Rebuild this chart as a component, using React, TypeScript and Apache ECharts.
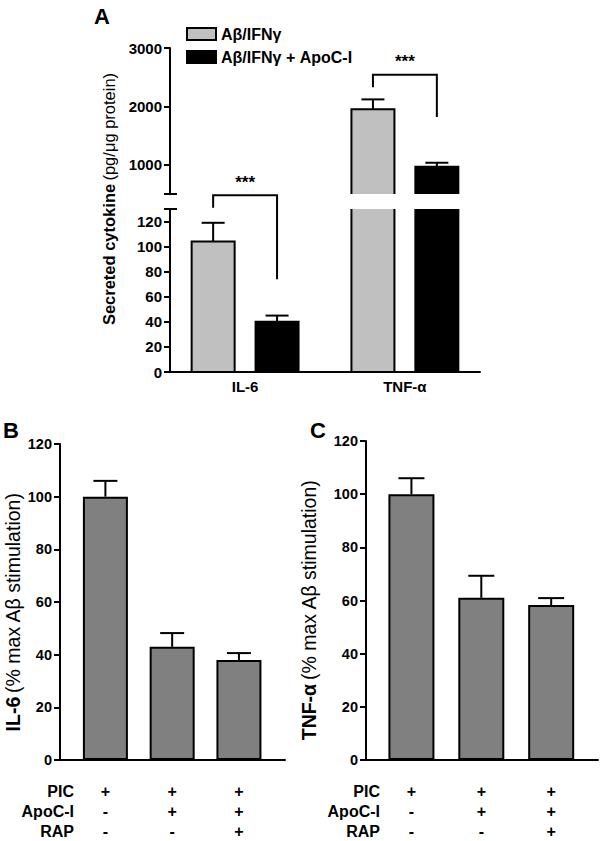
import React, { useEffect, useRef } from "react";
import * as echarts from "echarts";

const FONT = '"Liberation Sans", Arial, Helvetica, sans-serif';

// ---------- Panel A data ----------
const groupsA = ["IL-6", "TNF-α"];
const seriesA = ["Aβ/IFNγ", "Aβ/IFNγ + ApoC-I"];
const meanA_plain = [104, 1950];
const errA_plain = [15, 170];
const meanA_apoc = [40, 965];
const errA_apoc = [5, 70];
const ticksA_upper = [1000, 2000, 3000];
const ticksA_lower = [0, 20, 40, 60, 80, 100, 120];
const rangeA_upper = [500, 3000];
const rangeA_lower = [0, 130];
// significance brackets: [group index, bracket level, left leg end, right leg end]
const bracketA_lower = [[0, 141, 131, 74]];
const bracketA_upper = [[1, 2540, 2330, 1820]];
const sigLabel = "***";

// ---------- Panels B, C data ----------
const conditionNames = ["PIC", "ApoC-I", "RAP"];
const conditionSigns = [
  ["+", "-", "-"],
  ["+", "+", "-"],
  ["+", "+", "+"],
];
const il6Pct = [100, 43, 38];
const il6PctErr = [6, 5.2, 2.6];
const tnfPct = [100, 61, 58.3];
const tnfPctErr = [6, 8.3, 2.6];
const ticksPct = [0, 20, 40, 60, 80, 100, 120];

// ---------- layout constants ----------
const OFF_A = 0.2;
const BAR_W_A = 43;
const XR_A = [0.53, 2.47];
const XR_B = [0.32, 3.69];
const XR_C = [0.35, 3.67];
const GRAY_A = "#c0c0c0";
const GRAY_BC = "#808080";

const lineStyle = { color: "#000", width: 2 };

function barRenderA(color: string) {
  return (params: any, api: any) => {
    const x = api.value(0);
    const v = api.value(1);
    const base = api.coord([x, 0]);
    const top = api.coord([x, v]);
    return {
      type: "rect",
      shape: { x: top[0] - BAR_W_A / 2, y: top[1], width: BAR_W_A, height: base[1] - top[1] },
      style: { fill: color, stroke: "#000", lineWidth: 2 },
    };
  };
}

function errRender(capHalf: number) {
  return (params: any, api: any) => {
    const x = api.value(0);
    const m = api.value(1);
    const e = api.value(2);
    const p0 = api.coord([x, m]);
    const p1 = api.coord([x, m + e]);
    return {
      type: "group",
      children: [
        { type: "line", shape: { x1: p0[0], y1: p0[1], x2: p1[0], y2: p1[1] }, style: { stroke: "#000", lineWidth: 2 } },
        { type: "line", shape: { x1: p1[0] - capHalf, y1: p1[1], x2: p1[0] + capHalf, y2: p1[1] }, style: { stroke: "#000", lineWidth: 2 } },
      ],
    };
  };
}

function bracketRender(params: any, api: any) {
  const g = api.value(0) + 1;
  const lvl = api.value(1);
  const l = api.value(2);
  const r = api.value(3);
  const pl = api.coord([g - OFF_A, lvl]);
  const pr = api.coord([g + OFF_A, lvl]);
  const lb = api.coord([g - OFF_A, l]);
  const rb = api.coord([g + OFF_A, r]);
  return {
    type: "group",
    children: [
      { type: "polyline", shape: { points: [lb, pl, pr, rb] }, style: { stroke: "#000", lineWidth: 2, fill: null } },
      {
        type: "text",
        x: (pl[0] + pr[0]) / 2,
        y: pl[1] - 13,
        style: { text: sigLabel, fontSize: 17, fontWeight: "bold", fontFamily: FONT, align: "center", verticalAlign: "middle", fill: "#000" },
      },
    ],
  };
}

function breakRender(params: any, api: any) {
  const p = api.coord([api.value(0), api.value(1)]);
  return { type: "line", shape: { x1: p[0] - 6, y1: p[1], x2: p[0] + 7, y2: p[1] }, style: { stroke: "#000", lineWidth: 2 } };
}

function yAxisCfg(grid: number, min: number, max: number, ticks: number[], fontSize: number) {
  return {
    gridIndex: grid,
    type: "value",
    min,
    max,
    axisLine: { show: true, onZero: false, lineStyle },
    axisTick: { show: true, customValues: ticks, length: 6, lineStyle },
    axisLabel: {
      customValues: ticks,
      formatter: (v: number) => "{t|" + String(v) + "}",
      rich: { t: { color: "#000", fontWeight: "bold", fontSize, fontFamily: FONT } },
      color: "#000",
      fontWeight: "bold",
      fontSize,
      fontFamily: FONT,
      margin: 8,
    },
    splitLine: { show: false },
  };
}

export default function App() {
  const ref = useRef<HTMLDivElement>(null);
  useEffect(() => {
    if (!ref.current) return;
    const chart = echarts.init(ref.current, null, { renderer: "svg" });

    const plainA = groupsA.map((g, i) => [i + 1 - OFF_A, meanA_plain[i], errA_plain[i]]);
    const apocA = groupsA.map((g, i) => [i + 1 + OFF_A, meanA_apoc[i], errA_apoc[i]]);
    const allA = plainA.concat(apocA);
    const dataB = il6Pct.map((v, i) => [i + 1, v]);
    const errB = il6Pct.map((v, i) => [i + 1, v, il6PctErr[i]]);
    const dataC = tnfPct.map((v, i) => [i + 1, v]);
    const errC = tnfPct.map((v, i) => [i + 1, v, tnfPctErr[i]]);
    const ticksX = conditionSigns.map((s, i) => i + 1);
    const signFmt = (v: number) => conditionSigns[Math.round(v) - 1].join("\n");

    const titleText = (x: number, y: number, rich: string, size: number) => ({
      type: "text",
      x,
      y,
      rotation: Math.PI / 2,
      style: {
        text: rich,
        rich: {
          b: { fontWeight: "bold", fontSize: size, fontFamily: FONT, fill: "#000" },
          n: { fontWeight: "normal", fontSize: size, fontFamily: FONT, fill: "#000" },
        },
        align: "center",
        verticalAlign: "middle",
      },
    });
    const letter = (x: number, y: number, t: string) => ({
      type: "text",
      x,
      y,
      style: { text: t, fontSize: 22, fontWeight: "bold", fontFamily: FONT, fill: "#000", align: "center", verticalAlign: "middle" },
    });
    const rowNames = (x: number) => ({
      type: "text",
      x,
      y: 781,
      style: {
        text: conditionNames.join("\n"),
        fontSize: 16,
        fontWeight: "bold",
        fontFamily: FONT,
        fill: "#000",
        align: "right",
        verticalAlign: "top",
        lineHeight: 20,
      },
    });

    const option: any = {
      animation: false,
      backgroundColor: "#fff",
      textStyle: { fontFamily: FONT },
      legend: {
        orient: "vertical",
        left: 181,
        top: 21,
        itemWidth: 29,
        itemHeight: 12,
        itemGap: 7,
        selectedMode: false,
        textStyle: { fontFamily: FONT, fontSize: 16, fontWeight: "bold", color: "#000" },
        data: [
          { name: seriesA[0], icon: "rect", itemStyle: { color: GRAY_A, borderColor: "#000", borderWidth: 2 } },
          { name: seriesA[1], icon: "rect", itemStyle: { color: "#000", borderColor: "#000", borderWidth: 2 } },
        ],
      },
      grid: [
        { left: 170, top: 48, width: 310, height: 146 },
        { left: 170, top: 209, width: 310, height: 163 },
        { left: 60, top: 444, width: 225, height: 316 },
        { left: 366, top: 441, width: 232, height: 319 },
      ],
      xAxis: [
        { gridIndex: 0, type: "value", min: XR_A[0], max: XR_A[1], show: false, splitLine: { show: false } },
        {
          gridIndex: 1,
          type: "value",
          min: XR_A[0],
          max: XR_A[1],
          axisLine: { show: true, onZero: false, lineStyle },
          axisTick: { show: false },
          splitLine: { show: false },
          axisLabel: {
            customValues: groupsA.map((g, i) => i + 1),
            formatter: (v: number) => "{t|" + groupsA[Math.round(v) - 1] + "}",
            rich: { t: { color: "#000", fontWeight: "bold", fontSize: 15, fontFamily: FONT } },
            color: "#000",
            fontWeight: "bold",
            fontSize: 15,
            fontFamily: FONT,
            margin: 7,
          },
        },
        {
          gridIndex: 2,
          type: "value",
          min: XR_B[0],
          max: XR_B[1],
          axisLine: { show: true, onZero: false, lineStyle },
          axisTick: { show: false },
          splitLine: { show: false },
          axisLabel: { customValues: ticksX, formatter: signFmt, color: "#000", fontWeight: "bold", fontSize: 16, lineHeight: 20, fontFamily: FONT, margin: 21 },
        },
        {
          gridIndex: 3,
          type: "value",
          min: XR_C[0],
          max: XR_C[1],
          axisLine: { show: true, onZero: false, lineStyle },
          axisTick: { show: false },
          splitLine: { show: false },
          axisLabel: { customValues: ticksX, formatter: signFmt, color: "#000", fontWeight: "bold", fontSize: 16, lineHeight: 20, fontFamily: FONT, margin: 21 },
        },
      ],
      yAxis: [
        yAxisCfg(0, rangeA_upper[0], rangeA_upper[1], ticksA_upper, 15),
        yAxisCfg(1, rangeA_lower[0], rangeA_lower[1], ticksA_lower, 15),
        yAxisCfg(2, 0, 120, ticksPct, 14.5),
        yAxisCfg(3, 0, 120, ticksPct, 14.5),
      ],
      series: [
        { type: "custom", name: seriesA[0], xAxisIndex: 0, yAxisIndex: 0, clip: true, renderItem: barRenderA(GRAY_A), data: plainA, encode: { x: 0, y: 1 }, itemStyle: { color: GRAY_A } },
        { type: "custom", name: seriesA[1], xAxisIndex: 0, yAxisIndex: 0, clip: true, renderItem: barRenderA("#000"), data: apocA, encode: { x: 0, y: 1 }, itemStyle: { color: "#000" } },
        { type: "custom", name: seriesA[0], xAxisIndex: 1, yAxisIndex: 1, clip: true, renderItem: barRenderA(GRAY_A), data: plainA, encode: { x: 0, y: 1 }, itemStyle: { color: GRAY_A } },
        { type: "custom", name: seriesA[1], xAxisIndex: 1, yAxisIndex: 1, clip: true, renderItem: barRenderA("#000"), data: apocA, encode: { x: 0, y: 1 }, itemStyle: { color: "#000" } },
        { type: "custom", name: "errA_upper", xAxisIndex: 0, yAxisIndex: 0, clip: true, renderItem: errRender(11.5), data: allA, encode: { x: 0, y: 1 }, z: 3 },
        { type: "custom", name: "errA_lower", xAxisIndex: 1, yAxisIndex: 1, clip: true, renderItem: errRender(11.5), data: allA, encode: { x: 0, y: 1 }, z: 3 },
        { type: "custom", name: "sigA_upper", xAxisIndex: 0, yAxisIndex: 0, clip: false, renderItem: bracketRender, data: bracketA_upper, encode: { x: 0, y: 1 } },
        { type: "custom", name: "sigA_lower", xAxisIndex: 1, yAxisIndex: 1, clip: false, renderItem: bracketRender, data: bracketA_lower, encode: { x: 0, y: 1 } },
        { type: "custom", name: "breakA_upper", xAxisIndex: 0, yAxisIndex: 0, clip: false, renderItem: breakRender, data: [[XR_A[0], rangeA_upper[0]]], encode: { x: 0, y: 1 } },
        { type: "custom", name: "breakA_lower", xAxisIndex: 1, yAxisIndex: 1, clip: false, renderItem: breakRender, data: [[XR_A[0], rangeA_lower[1]]], encode: { x: 0, y: 1 } },
        { type: "bar", name: "IL-6 %", xAxisIndex: 2, yAxisIndex: 2, barWidth: 45, data: dataB, itemStyle: { color: GRAY_BC, borderColor: "#000", borderWidth: 2 } },
        { type: "custom", name: "errB", xAxisIndex: 2, yAxisIndex: 2, renderItem: errRender(12), data: errB, encode: { x: 0, y: 1 }, z: 3 },
        { type: "bar", name: "TNF %", xAxisIndex: 3, yAxisIndex: 3, barWidth: 46, data: dataC, itemStyle: { color: GRAY_BC, borderColor: "#000", borderWidth: 2 } },
        { type: "custom", name: "errC", xAxisIndex: 3, yAxisIndex: 3, renderItem: errRender(13), data: errC, encode: { x: 0, y: 1 }, z: 3 },
      ],
      graphic: [
        letter(102, 16, "A"),
        letter(11, 430, "B"),
        letter(318, 430, "C"),
        titleText(109, 199, "{b|Secreted cytokine} {n|(pg/μg protein)}", 16.5),
        titleText(13, 612, "{b|IL-6} {n|(% max Aβ stimulation)}", 19.5),
        titleText(309, 610, "{b|TNF-α} {n|(% max Aβ stimulation)}", 19.5),
        rowNames(74),
        rowNames(380),
      ],
    };
    chart.setOption(option);
    return () => chart.dispose();
  }, []);
  return <div ref={ref} style={{ position: "fixed", left: 0, top: 0, width: 600, height: 841, background: "#fff" }} />;
}
